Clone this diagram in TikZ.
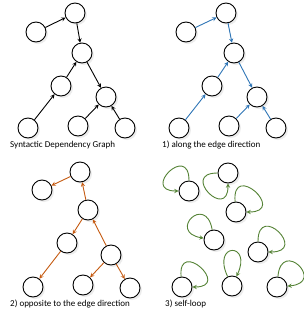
\documentclass[tikz,border=0pt]{standalone}
\usepackage{fontspec}
\setmainfont{Carlito}
\usetikzlibrary{shadows}
\definecolor{alongblue}{RGB}{46,117,182}
\definecolor{oppositeorange}{RGB}{197,90,17}
\definecolor{loopgreen}{RGB}{84,130,53}
\begin{document}
\begin{tikzpicture}[>=stealth, x=1pt, y=-1pt,
	word/.style={circle, draw, line width=0.9pt, minimum size=20pt, inner sep=0pt, fill=white,
		drop shadow={shadow xshift=2pt, shadow yshift=-2pt, opacity=0.15}},
	dep/.style={->, line width=0.9pt},
	gcaption/.style={anchor=west, inner sep=0pt, font=\fontsize{9}{11}\selectfont}]
	\useasboundingbox (0,0) rectangle (304,317);
	
	% Do thi phu thuoc cu phap
	\node[word] (a1) at (75,13) {};
	\node[word] (b1) at (36,32) {};
	\node[word] (c1) at (82,53) {};
	\node[word] (d1) at (61,86) {};
	\node[word] (e1) at (106,97) {};
	\node[word] (f1) at (28,128) {};
	\node[word] (g1) at (78,126) {};
	\node[word] (h1) at (125,128) {};
	\draw[dep] (b1) -- (a1);
	\draw[dep] (a1) -- (c1);
	\draw[dep] (d1) -- (c1);
	\draw[dep] (f1) -- (d1);
	\draw[dep] (c1) -- (e1);
	\draw[dep] (g1) -- (e1);
	\draw[dep] (h1) -- (e1);
	\node[gcaption] (cap1) at (10,145) {Syntactic Dependency Graph};
	
	% 1) cung chieu canh
	\node[word] (a2) at (226,13) {};
	\node[word] (b2) at (186,32) {};
	\node[word] (c2) at (234,53) {};
	\node[word] (d2) at (212,86) {};
	\node[word] (e2) at (257,97) {};
	\node[word] (f2) at (179,128) {};
	\node[word] (g2) at (229,126) {};
	\node[word] (h2) at (276,128) {};
	\draw[dep, alongblue] (b2) -- (a2);
	\draw[dep, alongblue] (a2) -- (c2);
	\draw[dep, alongblue] (d2) -- (c2);
	\draw[dep, alongblue] (f2) -- (d2);
	\draw[dep, alongblue] (c2) -- (e2);
	\draw[dep, alongblue] (g2) -- (e2);
	\draw[dep, alongblue] (h2) -- (e2);
	\node[gcaption] (cap2) at (162,145) {1) along the edge direction};
	
	% 2) nguoc chieu canh
	\node[word] (a3) at (80,172) {};
	\node[word] (b3) at (42,190) {};
	\node[word] (c3) at (88,210) {};
	\node[word] (d3) at (67,243) {};
	\node[word] (e3) at (111,255) {};
	\node[word] (f3) at (33,287) {};
	\node[word] (g3) at (83,285) {};
	\node[word] (h3) at (130,288) {};
	\draw[dep, oppositeorange] (a3) -- (b3);
	\draw[dep, oppositeorange] (c3) -- (a3);
	\draw[dep, oppositeorange] (c3) -- (d3);
	\draw[dep, oppositeorange] (d3) -- (f3);
	\draw[dep, oppositeorange] (e3) -- (c3);
	\draw[dep, oppositeorange] (e3) -- (g3);
	\draw[dep, oppositeorange] (e3) -- (h3);
	\node[gcaption] (cap3) at (10,304) {2) opposite to the edge direction};
	
	% 3) tu vong
	\node[word] (s1) at (189,191) {};
	\node[word] (s2) at (228,173) {};
	\node[word] (s3) at (236,212) {};
	\node[word] (s4) at (214,240) {};
	\node[word] (s5) at (258,252) {};
	\node[word] (s6) at (182,287) {};
	\node[word] (s7) at (232,286) {};
	\node[word] (s8) at (277,287) {};
	\draw[dep, loopgreen] (s1) to[out=90, in=180, distance=38pt] (s1);
	\draw[dep, loopgreen] (s2) to[out=180, in=270, distance=38pt] (s2);
	\draw[dep, loopgreen] (s3) to[out=95, in=0, distance=41pt] (s3);
	\draw[dep, loopgreen] (s4) to[out=100, in=170, distance=37pt] (s4);
	\draw[dep, loopgreen] (s5) to[out=90, in=0, distance=40pt] (s5);
	\draw[dep, loopgreen] (s6) to[out=95, in=0, distance=39pt] (s6);
	\draw[dep, loopgreen] (s7) to[out=115, in=65, distance=38pt] (s7);
	\draw[dep, loopgreen] (s8) to[out=85, in=5, distance=39pt] (s8);
	\node[gcaption] (cap4) at (165,304) {3) self-loop};
\end{tikzpicture}
\end{document}
